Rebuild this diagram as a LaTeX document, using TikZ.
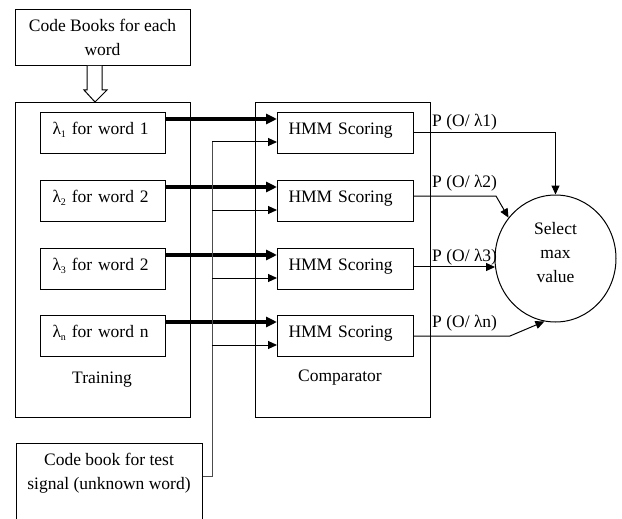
\documentclass[tikz,border=0pt]{standalone}
\usepackage{fontspec}
\setmainfont{Liberation Serif}
\usetikzlibrary{arrows.meta,calc,shapes.geometric}

\begin{document}
\begin{tikzpicture}[x=1pt,y=-1pt,
  font=\fontsize{17.5}{24}\selectfont,
  box/.style={draw, line width=1pt, inner sep=0pt},
  frame/.style={box, minimum width=175pt, minimum height=314pt},
  lambdabox/.style={box, minimum height=41pt, text width=101pt, inner xsep=12pt,
    align=left, text height=12pt, text depth=9pt},
  hmmbox/.style={box, minimum height=41pt, text width=114pt, inner xsep=11pt,
    align=left, text height=12pt, text depth=9pt},
  thickarrow/.style={line width=3.2pt, -{Triangle[length=11pt,width=10pt]}},
  thinarrow/.style={line width=1pt, -{Triangle[length=9pt,width=8pt]}},
  buswire/.style={line width=1pt, black!70},
  plabel/.style={anchor=west, inner sep=0pt},
  caption/.style={inner sep=0pt},
  sub/.style={}
  ]
\useasboundingbox (0,0) rectangle (622,519);
\clip (0,0) rectangle (622,519);

% code books source and the block arrow into the training stage
\node[box, minimum width=175pt, minimum height=56pt, align=center] (cb) at (102.5,37.5)
  {Code Books for each\\word};

% training and comparator frames
\node[frame] (train) at (103,260) {};
\node[caption] (trainlbl) at (102,380) {Training};
\node[frame] (comp) at (342.5,260) {};
\node[caption] (complbl) at (340,378) {Comparator};

\draw[line width=1pt, fill=white] ($(cb.south)+(-15.5,0)$) -- ++(0,24) -- ++(-3,0)
  -- ++(11,12) -- ++(12,-12) -- ++(-5,0) -- ++(0,-24);

% word models
\newcommand{\lsub}[1]{λ\raisebox{-3pt}{\fontsize{10}{10}\selectfont #1}}
\node[lambdabox, anchor=north west] (l1) at (40,112) {\lsub{1} for word 1};
\node[lambdabox, anchor=north west] (l2) at (40,180) {\lsub{2} for word 2};
\node[lambdabox, anchor=north west] (l3) at (40,248) {\lsub{3} for word 2};
\node[lambdabox, anchor=north west] (l4) at (40,315) {\lsub{n} for word n};

% scoring blocks
\node[hmmbox, anchor=north west] (h1) at (277,112) {HMM Scoring};
\node[hmmbox, anchor=north west] (h2) at (277,180) {HMM Scoring};
\node[hmmbox, anchor=north west] (h3) at (277,248) {HMM Scoring};
\node[hmmbox, anchor=north west] (h4) at (277,315) {HMM Scoring};

% unknown word input
\node[box, minimum width=186pt, minimum height=90pt, anchor=north] (test) at (109,443) {};
\node[caption, align=center] (testlbl) at (109,473) {Code book for test\\signal (unknown word)};

% decision block
\node[draw, line width=1pt, ellipse, inner sep=0pt, minimum width=121pt,
  minimum height=127pt] (sel) at (555.5,258.5) {};
\node[caption, align=center] (seltxt) at (555.5,253) {Select\\max\\value};

% model to scorer links
\foreach \i in {1,...,4}
  \draw[thickarrow] ($(l\i.north east)+(0,7)$) -- ($(h\i.north west)+(0,7)$);

% test signal bus
\coordinate (bus1) at (212,142);
\coordinate (bus2) at (212,210);
\coordinate (bus3) at (212,278);
\coordinate (bus4) at (212,345);
\draw[buswire] ($(test.north east)+(0,33)$) -| (bus1);
\foreach \i in {1,...,4}
  \draw[thinarrow] (bus\i) -- (h\i.west |- bus\i);

% scores to decision block
\draw[thinarrow] (h1.east) -| (sel.north);
\draw[thinarrow] ($(h2.east)+(0,-5)$) -- ++(82,0) -- (sel.139);
\draw[thinarrow] (h3.east |- sel.188) -- (sel.188);
\draw[thinarrow] (h4.east) -- ++(96,0) -- (sel.260);

\node[plabel] (p1) at (432,122) {P (O/ λ1)};
\node[plabel] (p2) at (432,183) {P (O/ λ2)};
\node[plabel] (p3) at (432,257) {P (O/ λ3)};
\node[plabel] (p4) at (432,323) {P (O/ λn)};
\end{tikzpicture}
\end{document}
